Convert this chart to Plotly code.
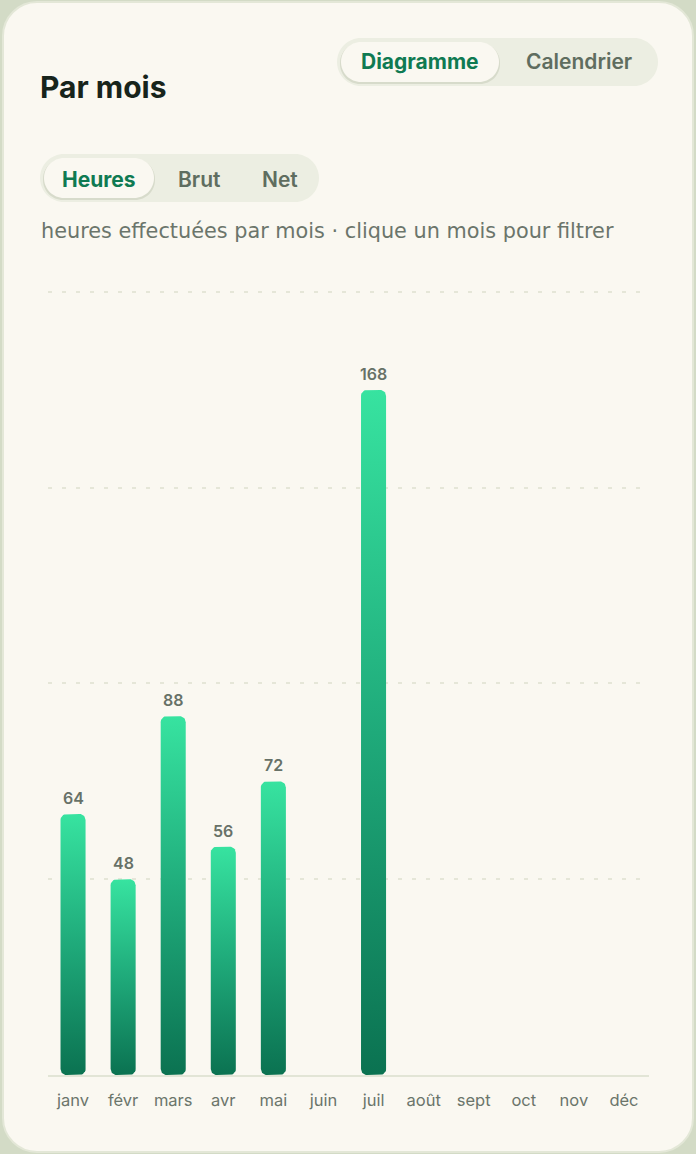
import math
import plotly.graph_objects as go

# ---------------- data ----------------
months = ["janv", "févr", "mars", "avr", "mai", "juin", "juil", "août", "sept", "oct", "nov", "déc"]
hours = [64, 48, 88, 56, 72, 0, 168, 0, 0, 0, 0, 0]
grid_ticks = [48, 96, 144, 192]
title_text = "Par mois"
view_tabs = ["Diagramme", "Calendrier"]
metric_tabs = ["Heures", "Brut", "Net"]
subtitle_text = "heures effectuées par mois · clique un mois pour filtrer"

# ---------------- layout constants (px) ----------------
W, H = 696, 1154
PLOT_X0, PLOT_X1 = 48, 649
PLOT_Y0, PLOT_Y1 = 292, 1075  # top, bottom (screen px)
Y_MAX = 192
Y_PAD = 0.4
BAR_FRAC = 0.5
BAR_R = 6

FONT = "Inter"
GREEN = "#0F7A52"
MUTED = "#5F6D5F"
LABEL = "#6B756B"
CARD = "#FAF8F1"
PILL_BG = "#ECEEE2"

px_per_cat = (PLOT_X1 - PLOT_X0) / len(months)
px_per_unit = (PLOT_Y1 - PLOT_Y0) / Y_MAX


def P(x, y):
    return x / W, 1 - y / H


def rr_path(x0, y0, x1, y1, r):
    k = 0.5523 * r

    def f(x, y):
        a, b = P(x, y)
        return f"{a:.6f},{b:.6f}"

    s = f"M{f(x0 + r, y0)} L{f(x1 - r, y0)} "
    s += f"C{f(x1 - r + k, y0)} {f(x1, y0 + r - k)} {f(x1, y0 + r)} "
    s += f"L{f(x1, y1 - r)} "
    s += f"C{f(x1, y1 - r + k)} {f(x1 - r + k, y1)} {f(x1 - r, y1)} "
    s += f"L{f(x0 + r, y1)} "
    s += f"C{f(x0 + r - k, y1)} {f(x0, y1 - r + k)} {f(x0, y1 - r)} "
    s += f"L{f(x0, y0 + r)} "
    s += f"C{f(x0, y0 + r - k)} {f(x0 + r - k, y0)} {f(x0 + r, y0)} Z"
    return s


shapes = []
shapes.append(dict(type="path", xref="paper", yref="paper", layer="below",
                   path=rr_path(3, 2, 693, 1152, 34),
                   fillcolor=CARD, line=dict(color="#E3E7D7", width=2)))
shapes.append(dict(type="path", xref="paper", yref="paper", layer="below",
                   path=rr_path(337, 38, 658, 86, 24), fillcolor=PILL_BG, line=dict(width=0)))
shapes.append(dict(type="path", xref="paper", yref="paper", layer="below",
                   path=rr_path(340, 43, 500, 84, 20), fillcolor="rgba(120,135,100,0.18)", line=dict(width=0)))
shapes.append(dict(type="path", xref="paper", yref="paper", layer="below",
                   path=rr_path(341, 42, 499, 82, 20), fillcolor=CARD, line=dict(width=0)))
shapes.append(dict(type="path", xref="paper", yref="paper", layer="below",
                   path=rr_path(40, 154, 319, 202, 24), fillcolor=PILL_BG, line=dict(width=0)))
shapes.append(dict(type="path", xref="paper", yref="paper", layer="below",
                   path=rr_path(43, 159, 155, 200, 20), fillcolor="rgba(120,135,100,0.18)", line=dict(width=0)))
shapes.append(dict(type="path", xref="paper", yref="paper", layer="below",
                   path=rr_path(44, 158, 154, 198, 20), fillcolor=CARD, line=dict(width=0)))

annotations = []


def text_at(x, y, text, size, color, weight=400, anchor="left", family=FONT):
    a, b = P(x, y)
    annotations.append(dict(x=a, y=b, xref="paper", yref="paper", text=text, showarrow=False,
                            xanchor=anchor, yanchor="middle",
                            font=dict(family=family, size=size, color=color, weight=weight)))


text_at(38, 87, title_text, 30, "#17241B", 700)
text_at(420, 62, view_tabs[0], 21, GREEN, 700, "center")
text_at(579, 62, view_tabs[1], 21, MUTED, 600, "center")
text_at(99, 179, metric_tabs[0], 21, GREEN, 700, "center")
text_at(199, 179, metric_tabs[1], 21, MUTED, 600, "center")
text_at(280, 179, metric_tabs[2], 21, MUTED, 600, "center")
text_at(39, 231, subtitle_text, 20.8, LABEL, 400, family="DejaVu Sans")

fig = go.Figure()

hw = BAR_FRAC / 2
rx = BAR_R / px_per_cat
ry = BAR_R / px_per_unit
N = 8
for i, v in enumerate(hours):
    if v <= 0:
        continue
    x0, x1 = i - hw, i + hw
    xs, ys = [], []
    corners = [((x1 - rx, v - ry), 0), ((x0 + rx, v - ry), 90),
               ((x0 + rx, ry), 180), ((x1 - rx, ry), 270)]
    for (cx, cy), a0 in corners:
        for j in range(N + 1):
            t = math.radians(a0 + 90 * j / N)
            xs.append(cx + rx * math.cos(t))
            ys.append(cy + ry * math.sin(t))
    xs.append(xs[0]); ys.append(ys[0])
    fig.add_trace(go.Scatter(
        x=xs, y=ys, mode="lines", fill="toself", line=dict(width=0, color="rgba(0,0,0,0)"),
        fillgradient=dict(type="vertical", colorscale=[[0, "#0B7251"], [0.5, "#1FAA7A"], [1, "#37E3A0"]]),
        hoverinfo="skip", showlegend=False))
    annotations.append(dict(x=i, y=v, xref="x", yref="y", text=str(v), showarrow=False,
                            xanchor="center", yanchor="bottom", yshift=4,
                            font=dict(family=FONT, size=16, color="#677167", weight=600)))

fig.update_layout(
    width=W, height=H,
    margin=dict(l=0, r=0, t=0, b=0),
    paper_bgcolor="#D3DBC6",
    plot_bgcolor="rgba(0,0,0,0)",
    shapes=shapes,
    annotations=annotations,
    showlegend=False,
    xaxis=dict(domain=[PLOT_X0 / W, PLOT_X1 / W], range=[-0.5, len(months) - 0.5],
               tickmode="array", tickvals=list(range(len(months))), ticktext=months,
               showgrid=False, zeroline=False, showline=True, linecolor="#E2E5D6", linewidth=2,
               ticks="", ticklabelstandoff=9,
               tickfont=dict(family=FONT, size=16.5, color=LABEL), fixedrange=True),
    yaxis=dict(domain=[1 - PLOT_Y1 / H, 1 - (PLOT_Y0 - Y_PAD * px_per_unit) / H],
               range=[0, Y_MAX + Y_PAD],
               tickmode="array", tickvals=grid_ticks, showticklabels=False,
               showgrid=True, gridcolor="#E5E6D8", gridwidth=2, griddash="4px,10px",
               zeroline=False, showline=False, ticks="", fixedrange=True),
)

fig.write_html("out.html", config={"displayModeBar": False},
               post_script="document.body.style.margin='0';")
